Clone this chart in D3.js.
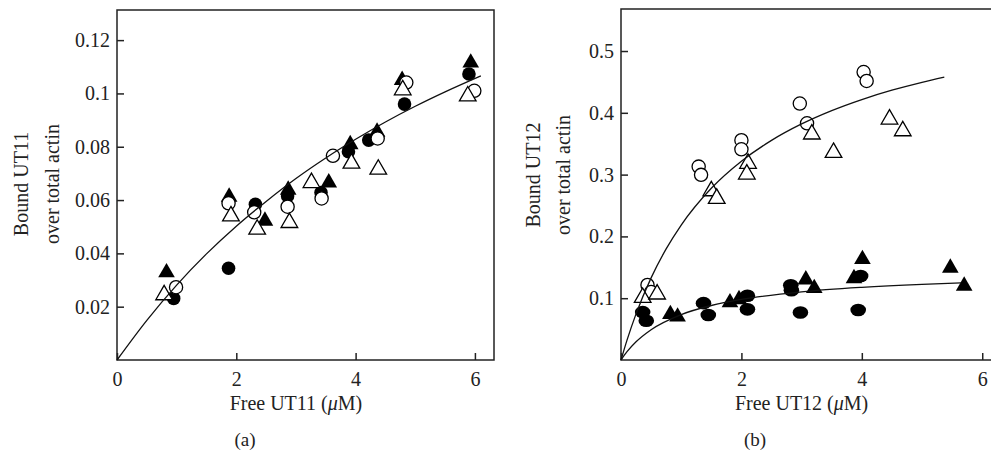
<!DOCTYPE html>
<html>
<head>
<meta charset="utf-8">
<script src="https://cdn.jsdelivr.net/npm/d3@7"></script>
<style>
  body { margin: 0; background: #fff; }
  svg text { font-family: "Liberation Serif", "Times New Roman", serif; fill: #222; }
</style>
</head>
<body>
<svg id="chart" width="991" height="461"></svg>
<script>
// ---- panel (a): UT11 ----
const aXTicks = [0, 2, 4, 6];
const aYTicks = [0.02, 0.04, 0.06, 0.08, 0.1, 0.12];
const aFilledCircles = [[0.95, 0.0231], [1.87, 0.0344], [2.32, 0.0584], [2.86, 0.0615], [3.42, 0.0628],
  [3.88, 0.0781], [4.22, 0.0825], [4.82, 0.096], [5.9, 0.1073]];
const aFilledTriangles = [[0.83, 0.0328], [1.88, 0.0612], [2.48, 0.0522], [2.87, 0.0638], [3.55, 0.0665],
  [3.91, 0.0809], [4.36, 0.0856], [4.78, 0.105], [5.93, 0.1115]];
const aOpenCircles = [[0.99, 0.0273], [1.87, 0.0588], [2.3, 0.0554], [2.86, 0.0575], [3.43, 0.0606],
  [3.62, 0.0766], [4.37, 0.0831], [4.85, 0.1041], [5.99, 0.101]];
const aOpenTriangles = [[0.79, 0.0244], [1.91, 0.054], [2.35, 0.049], [2.89, 0.0515], [3.26, 0.0665],
  [3.93, 0.0738], [4.38, 0.0715], [4.79, 0.1013], [5.88, 0.099]];
const aFitX = [0, 0.5, 1, 1.5, 2, 2.5, 3, 3.5, 4, 4.5, 5, 5.5, 6.1];
const aFitY = [0, 0.0149, 0.0281, 0.0398, 0.0502, 0.0595, 0.0681, 0.0758, 0.0828, 0.0893, 0.0952, 0.1006, 0.1066];

// ---- panel (b): UT12 ----
const bXTicks = [0, 2, 4, 6];
const bYTicks = [0.1, 0.2, 0.3, 0.4, 0.5];
const bFilledCircles = [[0.36, 0.0775], [0.42, 0.0635], [1.37, 0.092], [1.45, 0.0728], [2.1, 0.104], [2.1, 0.082],
  [2.82, 0.121], [2.83, 0.113], [2.98, 0.0768], [3.98, 0.136], [3.94, 0.081]];
const bFilledTriangles = [[0.82, 0.074], [0.94, 0.07], [1.81, 0.093], [1.96, 0.098], [3.07, 0.13], [3.21, 0.116],
  [3.87, 0.132], [4.01, 0.163], [5.47, 0.149], [5.7, 0.12]];
const bOpenCircles = [[0.44, 0.1215], [0.5, 0.11], [1.29, 0.313], [1.33, 0.2996], [2.0, 0.3557], [2.0, 0.341],
  [2.97, 0.415], [3.09, 0.383], [4.03, 0.466], [4.08, 0.4516]];
const bOpenTriangles = [[0.36, 0.101], [0.6, 0.1065], [1.5, 0.2736], [1.59, 0.2613], [2.11, 0.318], [2.09, 0.3006],
  [3.17, 0.3654], [3.53, 0.3357], [4.46, 0.3896], [4.68, 0.3707]];
const bUpperFitX = [0, 0.1, 0.25, 0.5, 0.75, 1, 1.5, 2, 2.5, 3, 3.5, 4, 4.5, 5, 5.37];
const bUpperFitY = [0, 0.0322, 0.0746, 0.1329, 0.1798, 0.2184, 0.2779, 0.3217, 0.3554, 0.382, 0.4036, 0.4215, 0.4366, 0.4494, 0.4577];
const bLowerFitX = [0, 0.1, 0.25, 0.5, 1, 1.5, 2, 3, 4, 5, 5.65];
const bLowerFitY = [0, 0.0134, 0.0294, 0.049, 0.0735, 0.0882, 0.098, 0.1103, 0.1176, 0.1225, 0.1249];

const svg = d3.select("#chart");
svg.append("rect").attr("width", 991).attr("height", 461).attr("fill", "#fff");

const ink = "#222";

function drawPanel(config) {
  const {
    xScale, yScale, xTicks, yTicks, xLabel, yLabel1, yLabel2,
    yLabelX1, yLabelX2, yLabelY, panelLabel, panelLabelX,
    filledCircles, filledTriangles, openCircles, openTriangles, fits, filledRx, filledRy,
  } = config;

  const [x0, x1] = xScale.range();
  const [y0, y1] = yScale.range();
  const g = svg.append("g");

  // frame
  g.append("rect")
    .attr("x", x0).attr("y", y1)
    .attr("width", x1 - x0).attr("height", y0 - y1)
    .attr("fill", "none").attr("stroke", ink).attr("stroke-width", 1.5);

  const yAxis = g.append("g")
    .attr("transform", `translate(${x0},0)`)
    .call(d3.axisLeft(yScale).tickValues(yTicks).tickSizeInner(-7).tickSizeOuter(0)
      .tickPadding(7).tickFormat((d) => `${d}`));
  const xAxis = g.append("g")
    .attr("transform", `translate(0,${y0})`)
    .call(d3.axisBottom(xScale).tickValues(xTicks).tickSizeInner(-7).tickSizeOuter(0)
      .tickPadding(12).tickFormat((d) => `${d}`));
  [yAxis, xAxis].forEach((ax) => {
    ax.select(".domain").remove();
    ax.selectAll("line").attr("stroke", ink).attr("stroke-width", 1.5);
    ax.selectAll("text").attr("font-size", 20).attr("fill", ink)
      .style("font-family", '"Liberation Serif", serif');
  });

  // markers
  const tri = d3.symbol().type(d3.symbolTriangle).size(120);
  g.selectAll(".fc").data(filledCircles).join("ellipse")
    .attr("cx", (d) => xScale(d[0])).attr("cy", (d) => yScale(d[1]))
    .attr("rx", filledRx).attr("ry", filledRy).attr("fill", "#000");
  g.selectAll(".ft").data(filledTriangles).join("path")
    .attr("d", tri).attr("transform", (d) => `translate(${xScale(d[0])},${yScale(d[1])})`)
    .attr("fill", "#000");
  g.selectAll(".oc").data(openCircles).join("circle")
    .attr("cx", (d) => xScale(d[0])).attr("cy", (d) => yScale(d[1]))
    .attr("r", 6.6).attr("fill", "#fff").attr("stroke", "#000").attr("stroke-width", 1.3);
  g.selectAll(".ot").data(openTriangles).join("path")
    .attr("d", tri).attr("transform", (d) => `translate(${xScale(d[0])},${yScale(d[1])})`)
    .attr("fill", "#fff").attr("stroke", "#000").attr("stroke-width", 1.3);

  // fitted curves
  const line = d3.line().x((d) => xScale(d[0])).y((d) => yScale(d[1])).curve(d3.curveMonotoneX);
  fits.forEach(([fx, fy]) => {
    g.append("path")
      .datum(fx.map((v, i) => [v, fy[i]]))
      .attr("d", line).attr("fill", "none").attr("stroke", "#111").attr("stroke-width", 1.3);
  });

  // labels
  g.append("text")
    .attr("x", xScale(3)).attr("y", 410).attr("text-anchor", "middle").attr("font-size", 20)
    .html(`Free ${xLabel} (<tspan font-style="italic">μ</tspan>M)`);
  g.append("text")
    .attr("transform", `translate(${yLabelX1},${yLabelY}) rotate(-90)`)
    .attr("text-anchor", "middle").attr("font-size", 20).text(yLabel1);
  g.append("text")
    .attr("transform", `translate(${yLabelX2},${yLabelY}) rotate(-90)`)
    .attr("text-anchor", "middle").attr("font-size", 20).text(yLabel2);
  g.append("text")
    .attr("x", panelLabelX).attr("y", 446).attr("text-anchor", "middle").attr("font-size", 19)
    .text(panelLabel);
}

drawPanel({
  xScale: d3.scaleLinear([0, 6.32], [117, 494]),
  yScale: d3.scaleLinear([0, 0.1313], [360, 10]),
  xTicks: aXTicks, yTicks: aYTicks,
  xLabel: "UT11", yLabel1: "Bound UT11", yLabel2: "over total actin",
  yLabelX1: 28, yLabelX2: 59, yLabelY: 184,
  panelLabel: "(a)", panelLabelX: 245,
  filledCircles: aFilledCircles, filledTriangles: aFilledTriangles,
  openCircles: aOpenCircles, openTriangles: aOpenTriangles,
  fits: [[aFitX, aFitY]], filledRx: 6.8, filledRy: 6.8,
});

drawPanel({
  xScale: d3.scaleLinear([0, 6.32], [621, 1001.5]),
  yScale: d3.scaleLinear([0, 0.568], [360, 9]),
  xTicks: bXTicks, yTicks: bYTicks,
  xLabel: "UT12", yLabel1: "Bound UT12", yLabel2: "over total actin",
  yLabelX1: 540, yLabelX2: 570, yLabelY: 175,
  panelLabel: "(b)", panelLabelX: 755,
  filledCircles: bFilledCircles, filledTriangles: bFilledTriangles,
  openCircles: bOpenCircles, openTriangles: bOpenTriangles,
  fits: [[bUpperFitX, bUpperFitY], [bLowerFitX, bLowerFitY]], filledRx: 7.8, filledRy: 6.3,
});
</script>
</body>
</html>
